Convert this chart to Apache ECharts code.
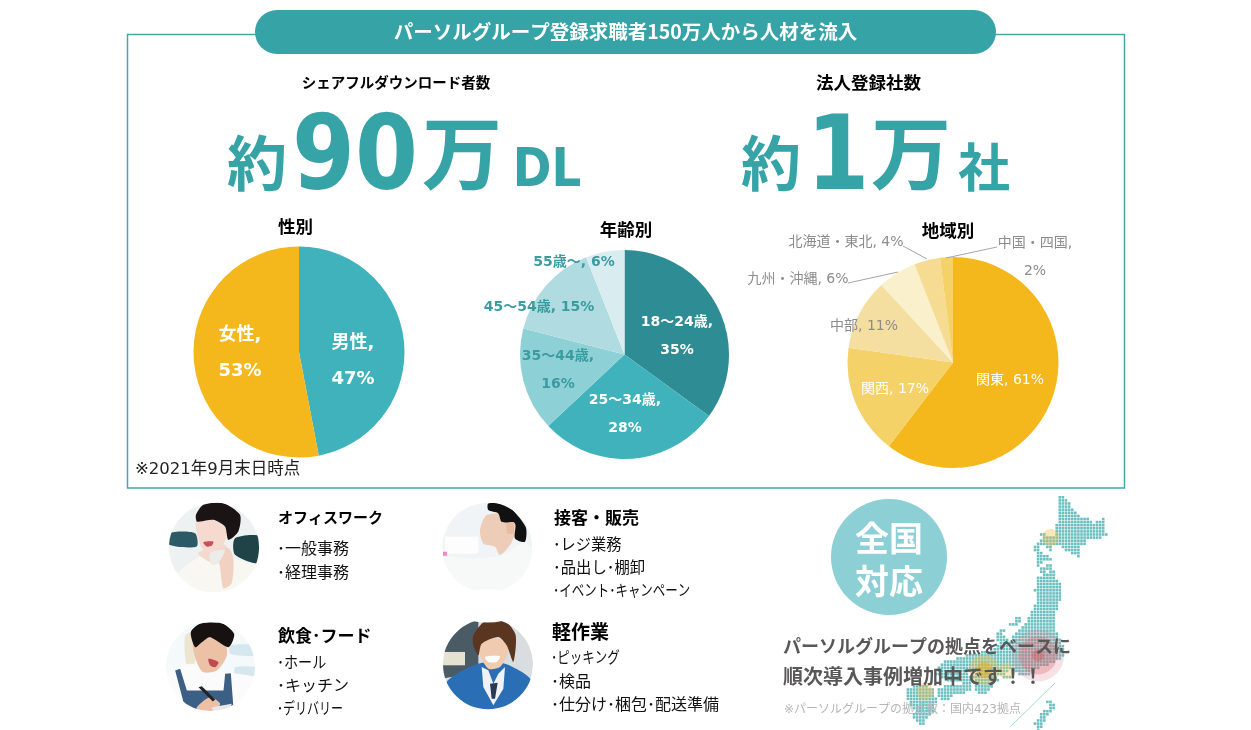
<!DOCTYPE html>
<html lang="ja">
<head>
<meta charset="utf-8">
<title>シェアフル</title>
<style>
  html, body { margin: 0; padding: 0; background: #fff; }
  #main { width: 1251px; height: 730px; }
</style>
<script src="https://cdn.jsdelivr.net/npm/echarts@6/dist/echarts.min.js"></script>
</head>
<body>
<div id="main"></div>
<script>
// pie data
const genderNames = ['男性', '女性']
const genderValues = [47, 53]
const ageNames = ['18～24歳', '25～34歳', '35～44歳', '45～54歳', '55歳～']
const ageValues = [35, 28, 16, 15, 6]
const areaNames = ['関東', '関西', '中部', '九州・沖縄', '北海道・東北', '中国・四国']
const areaValues = [61, 17, 11, 6, 4, 2]

// job lists
const jobTitles = ['オフィスワーク', '接客・販売', '飲食･フード', '軽作業']
const jobItems = [
    ['･一般事務', '･経理事務'],
    ['･レジ業務', '･品出し･棚卸', '･イベント･キャンペーン'],
    ['･ホール', '･キッチン', '･デリバリー'],
    ['･ピッキング', '･検品', '･仕分け･梱包･配送準備'],
]

// dot map of Japan: one line per row, [from, to] column runs
const mapRuns = [
    [[8, 9]], [[8, 10]], [[8, 11]], [[8, 11]], [[8, 12]], [[8, 13]], [[8, 14]],
    [[8, 17], [22, 22]], [[8, 18], [20, 22]], [[7, 22]], [[7, 22]], [[7, 22]],
    [[2, 3], [7, 23]], [[3, 21]], [[2, 16]], [[1, 16]],
    [[0, 1], [4, 5], [9, 14]], [[0, 1], [5, 5], [10, 14]], [[1, 2], [12, 14]],
    [[1, 4], [14, 14]], [[1, 5]], [[1, 2]], [[1, 1], [4, 5]], [[2, 5]],
    [[2, 3], [5, 6]], [[3, 6]], [[1, 6]], [[1, 7]], [[1, 8]], [[1, 8]], [[0, 8]],
    [[1, 8]], [[1, 8]], [[1, 8]], [[1, 7]], [[0, 7]], [[0, 7]],
    [[-1, 6]], [[-1, 6]], [[-6, -5], [-2, 6]], [[-6, -5], [-2, 6]],
    [[-8, -6], [-3, 6]], [[-4, 6]], [[-11, -10], [-5, 6]],
    [[-12, -11], [-6, 7]], [[-12, -10], [-7, 7]], [[-12, -9], [-7, 8]],
    [[-11, 8]], [[-12, 9]], [[-13, 9]], [[-17, 9]], [[-22, 9]], [[-25, 8]],
    [[-29, 6]], [[-30, 4]], [[-31, 1]],
    [[-31, -20], [-18, -9], [-6, -2]], [[-32, -22], [-19, -10], [-5, -2]],
    [[-30, -20], [-20, -13], [-10, -8]], [[-28, -21], [-19, -12]],
    [[-23, -21], [-19, -14]], [[-39, -35], [-29, -21], [-19, -14]],
    [[-41, -33], [-31, -21], [-19, -15]], [[-41, -33], [-31, -23], [-18, -16]],
    [[-41, -33], [-31, -27]], [[-41, -32], [-30, -28]],
    [[-40, -32], [4, 5]], [[-40, -33], [5, 6]], [[-39, -33], [5, 6]],
    [[-38, -33], [3, 5]], [[-39, -34], [2, 4]], [[-39, -35], [2, 3]],
    [[-38, -36], [1, 3]], [[-37, -36], [0, 2]], [[1, 2]], [[1, 1]],
]
// offices: column, row
const hubPoints = [[5, 13], [1, 51], [1, 51], [1, 51], [-16.4, 55.7], [-16.4, 55.7], [-9.3, 55.9], [-35.5, 62.8]]

const FONT = "'DejaVu Sans','Noto Sans CJK JP'"
const JP = "'Noto Sans CJK JP'"
const TEAL = '#36a3a6'

const hubSizes = [17, 52, 38, 12, 30, 16, 16, 17]
const hubColors = [
    'rgba(240,190,70,.38)', 'rgba(225,120,130,.22)', 'rgba(220,100,110,.32)', 'rgba(215,90,100,.45)',
    'rgba(240,190,60,.35)', 'rgba(235,170,30,.5)', 'rgba(240,200,90,.38)', 'rgba(240,190,70,.38)',
]

const mapPoints = []
mapRuns.forEach((runs, row) => {
    runs.forEach(run => {
        for (let col = run[0]; col <= run[1]; col++) {
            mapPoints.push([col, row])
        }
    })
})

// label centres in page pixels, by data index
const genderSpots = [[353, 361], [240, 353]]
const ageSpots = [[677, 336], [625, 414], [558, 370], [539, 307], [574, 262]]
const areaSpots = [[1010, 380], [895, 389], [864, 326], [798, 279], [846, 242], [1035, 257]]

const pieLabel = (spots, size, weight, lineHeight) => ({
    label: {
        show: true,
        position: 'inside',
        fontFamily: FONT,
        fontSize: size,
        fontWeight: weight,
        lineHeight: lineHeight,
    },
    labelLine: { show: false },
    labelLayout: params => ({
        x: spots[params.dataIndex][0],
        y: spots[params.dataIndex][1],
        align: 'center',
        verticalAlign: 'middle',
    }),
})

const toPie = (names, values, colors, labelColors, format) =>
    names.map((name, i) => ({
        name: name,
        value: values[i],
        itemStyle: { color: colors[i] },
        label: { color: labelColors[i], formatter: format ? format(i) : `${name}, ${values[i]}%` },
    }))

const txt = (text, x, y, size, fill, opt = {}) => ({
    type: 'text',
    x: x,
    y: y,
    z: 20,
    scaleX: opt.scaleX || 1,
    scaleY: opt.scaleY || 1,
    silent: true,
    style: {
        text: text,
        fill: fill,
        fontFamily: opt.font || JP,
        fontSize: size,
        fontWeight: opt.weight || 'normal',
        textAlign: opt.align || 'left',
        align: opt.align || 'left',
        textVerticalAlign: 'middle',
        verticalAlign: 'middle',
    },
})

// stylised portrait, polygons in a 330px wide crop, masked by a white ring
const portrait = (x, y, rx, ry, cx, cy, base, shapes) => ({
    type: 'group',
    x: x,
    y: y,
    children: [
        { type: 'circle', shape: { cx: 0, cy: 0, r: rx }, scaleY: ry / rx, style: { fill: base }, z: 5 },
        ...shapes.map(s => ({
            type: 'polygon',
            x: -cx / 3,
            y: -cy / 3,
            scaleX: 1 / 3,
            scaleY: 1 / 3,
            z: 6,
            shape: { points: s[1], smooth: s[2] === undefined ? 0.25 : s[2] },
            style: { fill: s[0] },
        })),
        {
            type: 'circle',
            z: 7,
            shape: { cx: 0, cy: 0, r: rx + 15 },
            style: { fill: 'none', stroke: '#fff', lineWidth: 30 },
        },
    ],
})

const photos = [
    portrait(214, 547.5, 45, 44.5, 162, 158, '#eef1f2', [
        ['#2c5966', [[28, 115], [105, 115], [110, 155], [28, 150]]],
        ['#1f4346', [[225, 130], [300, 125], [300, 205], [225, 180]]],
        ['#f9f7f1', [[40, 250], [110, 190], [150, 178], [230, 195], [295, 215], [300, 305], [40, 305]]],
        ['#f3d9cb', [[115, 175], [195, 150], [205, 195], [160, 205]]],
        ['#f6d9cf', [[108, 80], [140, 70], [195, 90], [195, 140], [160, 172], [130, 165], [115, 130]]],
        ['#1a1414', [[108, 60], [130, 30], [190, 25], [240, 60], [235, 110], [205, 135], [195, 95], [160, 75], [120, 80], [110, 80]]],
        ['#f1d2c0', [[170, 172], [205, 160], [220, 190], [215, 265], [190, 280], [180, 215]]],
        ['#ececea', [[150, 175], [195, 165], [175, 205], [155, 210]]],
        ['#c8505a', [[130, 142], [160, 140], [155, 153], [140, 155]]],
    ]),
    portrait(210.5, 666.5, 44.5, 45, 151, 163, '#f4f9fb', [
        ['#d6e8ef', [[210, 100], [285, 100], [285, 130], [210, 125]]],
        ['#d6e6ee', [[225, 165], [285, 165], [285, 190], [225, 185]]],
        ['#ece5cf', [[75, 70], [105, 60], [105, 150], [80, 160]]],
        ['#fbfbfb', [[15, 190], [90, 155], [190, 180], [290, 200], [290, 305], [15, 305]]],
        ['#ecc1a6', [[100, 90], [190, 80], [200, 130], [170, 175], [130, 180], [110, 150]]],
        ['#17120f', [[92, 60], [120, 35], [180, 30], [222, 65], [205, 105], [150, 75], [125, 90], [105, 105]]],
        ['#3b5f85', [[45, 175], [60, 170], [80, 235], [190, 235], [195, 185], [212, 183], [220, 290], [110, 305], [70, 270]], 0],
        ['#edbfa5', [[110, 285], [150, 255], [180, 275], [155, 305], [115, 305]]],
        ['#e8e8ea', [[155, 285], [215, 275], [205, 300], [160, 305]], 0],
        ['#222222', [[115, 225], [125, 222], [165, 262], [158, 268]], 0],
        ['#c04a50', [[145, 140], [175, 150], [165, 165], [150, 160]]],
    ]),
    portrait(487.3, 547.4, 45, 44.5, 157, 157, '#f1f4f7', [
        ['#fdfdfd', [[30, 125], [130, 125], [130, 175], [30, 175]], 0],
        ['#e98cc4', [[24, 170], [36, 170], [36, 182], [24, 182]], 0],
        ['#f7f8f8', [[20, 190], [120, 190], [200, 180], [265, 145], [300, 170], [300, 305], [20, 305]]],
        ['#eecdb8', [[155, 60], [220, 60], [240, 110], [225, 150], [195, 180], [180, 155], [145, 145], [135, 105]]],
        ['#111111', [[160, 25], [215, 30], [272, 95], [270, 140], [240, 130], [240, 85], [200, 80], [190, 55], [160, 45]]],
        ['#e8bca0', [[215, 85], [238, 82], [235, 115], [218, 115]]],
    ]),
    portrait(488, 664.3, 45, 45, 159, 157, '#d9dde0', [
        ['#4b5b66', [[20, 15], [130, 15], [130, 180], [20, 200]], 0],
        ['#e6e2d2', [[24, 120], [90, 120], [90, 160], [24, 160]], 0],
        ['#2a6fb5', [[35, 210], [130, 155], [210, 155], [290, 205], [300, 305], [35, 305]]],
        ['#f0f2f6', [[140, 165], [160, 175], [175, 215], [190, 185], [210, 165], [205, 230], [175, 280], [145, 225]], 0],
        ['#2a3a55', [[165, 215], [188, 212], [180, 260], [170, 260]], 0],
        ['#f0cbb0', [[130, 85], [215, 85], [220, 120], [195, 165], [160, 170], [135, 130]]],
        ['#5a3520', [[115, 70], [150, 28], [210, 28], [242, 70], [235, 150], [215, 100], [190, 75], [140, 95], [130, 130], [115, 100]]],
        ['#ffffff', [[150, 135], [195, 133], [185, 150], [160, 150]]],
    ]),
]

const jobSpots = [
    { x: 278, title: 517, size: 15, items: [548, 572], narrow: [1, 1] },
    { x: 554, title: 518, size: 17, items: [544, 567, 590], narrow: [0.95, 0.96, 0.78] },
    { x: 278, title: 636, size: 17, items: [662, 685, 708], narrow: [0.88, 1, 0.75] },
    { x: 552, title: 632, size: 19, items: [657, 681, 704], narrow: [0.78, 1, 1] },
]
const jobTexts = []
jobTitles.forEach((title, i) => {
    const spot = jobSpots[i]
    jobTexts.push(txt(title, spot.x, spot.title, spot.size, '#000', { weight: 'bold' }))
    jobItems[i].forEach((item, j) => {
        jobTexts.push(txt(item, spot.x - 1, spot.items[j], 16, '#111', { scaleX: spot.narrow[j] }))
    })
})

const leaders = [
    [[903, 246], [927, 259]],
    [[848, 283], [898, 272]],
    [[997, 247], [946, 258]],
]

const chart = echarts.init(document.getElementById('main'), null, { renderer: 'canvas' })
chart.setOption({
    animation: false,
    backgroundColor: '#fff',
    grid: { left: 895.5, top: 497.3, width: 232.5, height: 232.5, containLabel: false },
    xAxis: { type: 'value', min: -45, max: 30, show: false },
    yAxis: { type: 'value', min: 0, max: 75, inverse: true, show: false },
    series: [
        {
            type: 'scatter',
            symbol: 'rect',
            symbolSize: 2.6,
            silent: true,
            clip: false,
            itemStyle: { color: '#6cbfc0', opacity: 1 },
            data: mapPoints,
            z: 2,
        },
        {
            type: 'scatter',
            silent: true,
            clip: false,
            data: hubPoints.map((p, i) => ({
                value: p,
                symbolSize: hubSizes[i],
                itemStyle: { color: hubColors[i], opacity: 1 },
            })),
            z: 3,
        },
        {
            type: 'pie',
            center: [299, 352],
            radius: 105.5,
            startAngle: 90,
            silent: true,
            avoidLabelOverlap: false,
            ...pieLabel(genderSpots, 18, 'bold', 36),
            data: toPie(genderNames, genderValues, ['#40b2bc', '#f4b81c'], ['#fff', '#fff'],
                i => `${genderNames[i]},\n${genderValues[i]}%`),
        },
        {
            type: 'pie',
            center: [624.5, 354.5],
            radius: 104.5,
            startAngle: 90,
            silent: true,
            avoidLabelOverlap: false,
            ...pieLabel(ageSpots, 14, 'bold', 28),
            data: toPie(ageNames, ageValues, ['#2e8c94', '#40b2bc', '#8dd0d6', '#b0dbe0', '#d9edf1'],
                ['#fff', '#fff', '#3a9ca0', '#3a9ca0', '#3a9ca0'],
                i => (i < 3 ? `${ageNames[i]},\n${ageValues[i]}%` : `${ageNames[i]}, ${ageValues[i]}%`)),
        },
        {
            type: 'pie',
            center: [953, 362.5],
            radius: 105.5,
            startAngle: 90,
            silent: true,
            avoidLabelOverlap: false,
            ...pieLabel(areaSpots, 14, 'normal', 28),
            data: toPie(areaNames, areaValues, ['#f4b81c', '#f5d268', '#f5dfa0', '#faf0cc', '#f6dc92', '#f5d268'],
                ['#fff', '#fff', '#8c8c8c', '#8c8c8c', '#8c8c8c', '#8c8c8c'],
                i => (i === 5 ? `${areaNames[i]},\n${areaValues[i]}%` : `${areaNames[i]}, ${areaValues[i]}%`)),
        },
    ],
    graphic: {
        elements: [
            // job blocks first, the frame has to stay above the photo masks
            ...photos,
            ...jobTexts,

            // frame and heading
            {
                type: 'rect',
                z: 8,
                shape: { x: 127.5, y: 34.5, width: 997, height: 453.5 },
                style: { fill: 'none', stroke: '#46a6a8', lineWidth: 1.5 },
            },
            {
                type: 'rect',
                z: 9,
                shape: { x: 255, y: 10, width: 741, height: 44, r: 22 },
                style: { fill: TEAL },
            },
            txt('パーソルグループ登録求職者150万人から人材を流入', 625.5, 31.5, 19.5, '#fff', { weight: 'bold', align: 'center' }),
            txt('シェアフルダウンロード者数', 396, 82, 14.5, '#000', { weight: 'bold', align: 'center' }),
            txt('法人登録社数', 868.5, 82, 17.5, '#000', { weight: 'bold', align: 'center' }),

            // big numbers
            txt('約', 257, 163, 60, TEAL, { weight: 'bold', align: 'center' }),
            txt('90', 355, 162, 104, TEAL, { weight: 'bold', align: 'center', font: FONT, scaleX: 0.87 }),
            txt('万', 462, 153, 80, TEAL, { weight: 'bold', align: 'center' }),
            txt('DL', 547, 172, 53, TEAL, { weight: 'bold', align: 'center', font: FONT, scaleX: 0.88 }),
            txt('約', 771, 163, 60, TEAL, { weight: 'bold', align: 'center' }),
            txt('1', 838, 162, 104, TEAL, { weight: 'bold', align: 'center', font: FONT, scaleX: 0.87 }),
            txt('万', 911, 153, 80, TEAL, { weight: 'bold', align: 'center' }),
            txt('社', 984, 167, 52, TEAL, { weight: 'bold', align: 'center' }),

            // pie headings
            txt('性別', 295.5, 226, 17.5, '#000', { weight: 'bold', align: 'center' }),
            txt('年齢別', 626, 229, 17.5, '#000', { weight: 'bold', align: 'center' }),
            txt('地域別', 948, 230, 17.5, '#000', { weight: 'bold', align: 'center' }),
            txt('※2021年9月末日時点', 135, 470, 16.5, '#222', { font: FONT }),

            ...leaders.map(l => ({
                type: 'line',
                z: 6,
                shape: { x1: l[0][0], y1: l[0][1], x2: l[1][0], y2: l[1][1] },
                style: { stroke: '#a6a6a6', lineWidth: 1 },
            })),

            // nationwide panel
            { type: 'circle', z: 5, shape: { cx: 889, cy: 557, r: 58 }, style: { fill: '#8ccfd5' } },
            txt('全国', 889, 538, 34, '#fff', { weight: 'bold', align: 'center' }),
            txt('対応', 889, 581, 34, '#fff', { weight: 'bold', align: 'center' }),
            txt('パーソルグループの拠点をベースに', 783, 646, 18, '#595757', { weight: 'bold' }),
            txt('順次導入事例増加中です！！', 783, 676, 20, '#595757', { weight: 'bold' }),
            txt('※パーソルグループの拠点数：国内423拠点', 784, 710, 12, '#b5b5b6', { font: FONT }),
            {
                type: 'line',
                z: 6,
                shape: { x1: 1055, y1: 683, x2: 1010, y2: 727 },
                style: { stroke: '#a8d5d5', lineWidth: 1 },
            },
        ],
    },
})
</script>
</body>
</html>
